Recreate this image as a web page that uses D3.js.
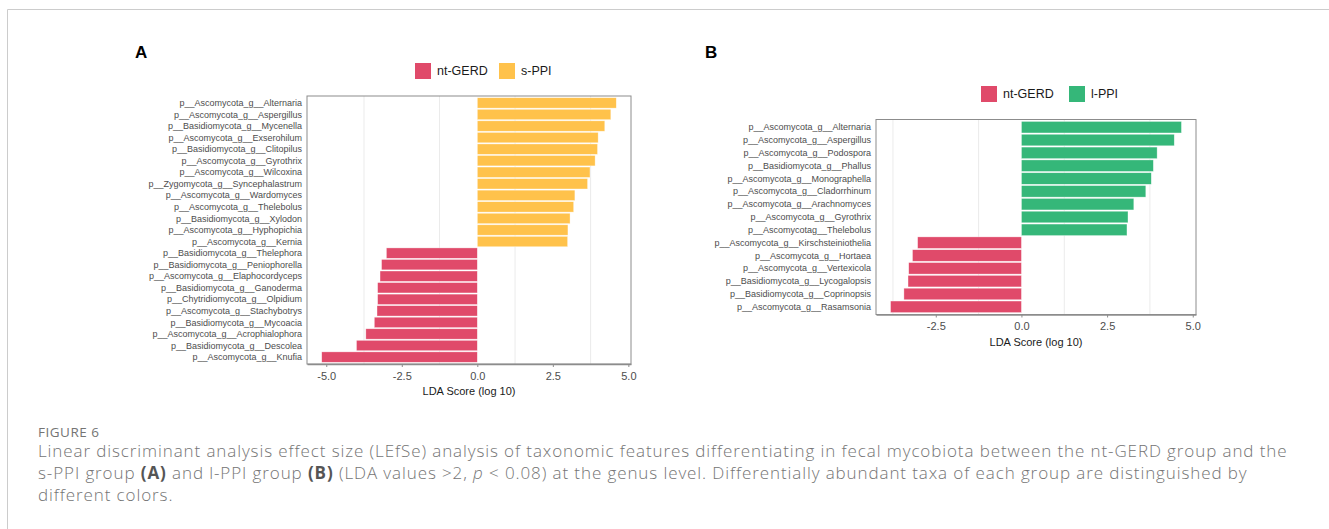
<!DOCTYPE html>
<html>
<head>
<meta charset="utf-8">
<script src="https://cdn.jsdelivr.net/npm/d3@7"></script>
<style>
  body { margin: 0; background: #fff; }
  .caption { font-family: "Open Sans", sans-serif; fill: #747474; }
</style>
</head>
<body>
<div id="chart"></div>
<script>
// panel A: nt-GERD vs s-PPI
var featuresA = [
  "p__Ascomycota_g__Alternaria", "p__Ascomycota_g__Aspergillus", "p__Basidiomycota_g__Mycenella",
  "p__Ascomycota_g__Exserohilum", "p__Basidiomycota_g__Clitopilus", "p__Ascomycota_g__Gyrothrix",
  "p__Ascomycota_g__Wilcoxina", "p__Zygomycota_g__Syncephalastrum", "p__Ascomycota_g__Wardomyces",
  "p__Ascomycota_g__Thelebolus", "p__Basidiomycota_g__Xylodon", "p__Ascomycota_g__Hyphopichia",
  "p__Ascomycota_g__Kernia", "p__Basidiomycota_g__Thelephora", "p__Basidiomycota_g__Peniophorella",
  "p__Ascomycota_g__Elaphocordyceps", "p__Basidiomycota_g__Ganoderma", "p__Chytridiomycota_g__Olpidium",
  "p__Ascomycota_g__Stachybotrys", "p__Basidiomycota_g__Mycoacia", "p__Ascomycota_g__Acrophialophora",
  "p__Basidiomycota_g__Descolea", "p__Ascomycota_g__Knufia"
];
var valuesA = [4.60, 4.42, 4.22, 4.00, 3.98, 3.90, 3.73, 3.65, 3.23, 3.19, 3.07, 3.00, 2.99,
  -3.01, -3.17, -3.22, -3.30, -3.30, -3.32, -3.41, -3.69, -4.00, -5.15];
var groupsA = ["nt-GERD", "s-PPI"];

// panel B: nt-GERD vs l-PPI
var featuresB = [
  "p__Ascomycota_g__Alternaria", "p__Ascomycota_g__Aspergillus", "p__Ascomycota_g__Podospora",
  "p__Basidiomycota_g__Phallus", "p__Ascomycota_g__Monographella", "p__Ascomycota_g__Cladorrhinum",
  "p__Ascomycota_g__Arachnomyces", "p__Ascomycota_g__Gyrothrix", "p__Ascomycotag__Thelebolus",
  "p__Ascomycota_g__Kirschsteiniothelia", "p__Ascomycota_g__Hortaea", "p__Ascomycota_g__Vertexicola",
  "p__Basidiomycota_g__Lycogalopsis", "p__Basidiomycota_g__Coprinopsis", "p__Ascomycota_g__Rasamsonia"
];
var valuesB = [4.67, 4.46, 3.96, 3.85, 3.79, 3.63, 3.28, 3.11, 3.08,
  -3.03, -3.18, -3.29, -3.31, -3.43, -3.82];
var groupsB = ["nt-GERD", "l-PPI"];

var tickValues = [-5, -2.5, 0, 2.5, 5];
var axisTitle = "LDA Score (log 10)";

var red = "#e04a6a", yellow = "#ffc24b", green = "#35b779";

var svg = d3.select("#chart").append("svg")
  .attr("width", 1329)
  .attr("height", 529);

// figure frame (open to the right and bottom)
svg.append("path")
  .attr("d", "M7.5,540V9.5H1340")
  .attr("fill", "none")
  .attr("stroke", "#cccccc")
  .attr("stroke-width", 1);

function drawPanel(p) {
  var lo = d3.min(p.values.concat([0])), hi = d3.max(p.values.concat([0]));
  var pad = (hi - lo) * 0.05;
  var x = d3.scaleLinear().domain([lo - pad, hi + pad]).range([p.left, p.right]);
  var y = d3.scaleBand().domain(p.features).range([p.top, p.bottom])
    .paddingInner(0.1).paddingOuter(0.15);

  var g = svg.append("g");

  // minor grid lines between the ticks
  var minor = d3.pairs(tickValues).map(function(d) { return (d[0] + d[1]) / 2; })
    .filter(function(v) { return v > x.domain()[0] && v < x.domain()[1]; });
  g.selectAll(".grid").data(minor).enter().append("line")
    .attr("x1", function(d) { return x(d); })
    .attr("x2", function(d) { return x(d); })
    .attr("y1", p.top).attr("y2", p.bottom)
    .attr("stroke", "#ebebeb").attr("stroke-width", 1);

  // bars
  g.selectAll(".bar").data(p.values).enter().append("rect")
    .attr("x", function(d) { return x(Math.min(0, d)); })
    .attr("y", function(d, i) { return y(p.features[i]); })
    .attr("width", function(d) { return Math.abs(x(d) - x(0)); })
    .attr("height", y.bandwidth())
    .attr("fill", function(d) { return d < 0 ? p.colors[0] : p.colors[1]; })
    .attr("stroke", "#ffffff").attr("stroke-opacity", 0.6).attr("stroke-width", 0.6);

  // panel border
  g.append("rect")
    .attr("x", p.left).attr("y", p.top)
    .attr("width", p.right - p.left).attr("height", p.bottom - p.top)
    .attr("fill", "none").attr("stroke", "#8c8c8c").attr("stroke-width", 1);

  // feature labels
  g.selectAll(".lab").data(p.features).enter().append("text")
    .attr("x", p.left - 5)
    .attr("y", function(d) { return y(d) + y.bandwidth() / 2; })
    .attr("dy", "0.35em")
    .attr("text-anchor", "end")
    .attr("font-family", "Liberation Sans, Arial, sans-serif")
    .attr("font-size", 9)
    .attr("fill", "#4d4d4d")
    .text(function(d) { return d; });

  // x axis
  var ticks = tickValues.filter(function(v) { return v >= x.domain()[0] && v <= x.domain()[1]; });
  var ax = g.append("g")
    .attr("transform", "translate(0," + p.bottom + ")")
    .call(d3.axisBottom(x).tickValues(ticks).tickSize(3).tickSizeOuter(0).tickPadding(5)
      .tickFormat(function(d) { return d.toFixed(1); }));
  ax.select(".domain").attr("stroke", "#8c8c8c").attr("stroke-width", 1.3);
  ax.selectAll(".tick line").attr("stroke", "#8c8c8c");
  ax.selectAll(".tick text")
    .attr("font-family", "Liberation Sans, Arial, sans-serif")
    .attr("font-size", 11)
    .attr("fill", "#4d4d4d");

  g.append("text")
    .attr("x", (p.left + p.right) / 2)
    .attr("y", p.bottom + 31)
    .attr("text-anchor", "middle")
    .attr("font-family", "Liberation Sans, Arial, sans-serif")
    .attr("font-size", 11)
    .attr("fill", "#1a1a1a")
    .text(axisTitle);

  // panel letter
  g.append("text")
    .attr("x", p.letterX).attr("y", 58)
    .attr("font-family", "Liberation Sans, Arial, sans-serif")
    .attr("font-size", 17).attr("font-weight", "bold")
    .attr("fill", "#000")
    .text(p.letter);

  // legend
  var lg = g.selectAll(".leg").data(p.groups).enter().append("g")
    .attr("transform", function(d, i) { return "translate(" + p.legendX[i] + "," + p.legendY + ")"; });
  lg.append("rect")
    .attr("width", 16).attr("height", 16)
    .attr("fill", function(d, i) { return p.colors[i]; });
  lg.append("text")
    .attr("x", 22).attr("y", 8).attr("dy", "0.35em")
    .attr("font-family", "Liberation Sans, Arial, sans-serif")
    .attr("font-size", 12.5)
    .attr("fill", "#1a1a1a")
    .text(function(d) { return d; });
}

drawPanel({
  features: featuresA, values: valuesA, groups: groupsA, colors: [red, yellow],
  left: 307, right: 631, top: 96, bottom: 364,
  letter: "A", letterX: 135, legendX: [415, 499], legendY: 63
});

drawPanel({
  features: featuresB, values: valuesB, groups: groupsB, colors: [red, green],
  left: 876, right: 1196, top: 119.5, bottom: 314.5,
  letter: "B", letterX: 705, legendX: [981, 1069], legendY: 86
});

// caption
svg.append("text").attr("class", "caption")
  .attr("x", 38).attr("y", 437)
  .attr("font-size", 13.5).attr("letter-spacing", 0.5).attr("fill", "#666")
  .text("FIGURE 6");

var cap = svg.append("text").attr("class", "caption")
  .attr("font-size", 17).attr("letter-spacing", 0.9).attr("font-weight", 300);
cap.append("tspan").attr("x", 38).attr("y", 457)
  .text("Linear discriminant analysis effect size (LEfSe) analysis of taxonomic features differentiating in fecal mycobiota between the nt-GERD group and the");
var l2 = cap.append("tspan").attr("x", 38).attr("y", 479);
l2.append("tspan").text("s-PPI group ");
l2.append("tspan").attr("font-weight", "bold").attr("fill", "#555").text("(A)");
l2.append("tspan").text(" and l-PPI group ");
l2.append("tspan").attr("font-weight", "bold").attr("fill", "#555").text("(B)");
l2.append("tspan").text(" (LDA values >2, ");
l2.append("tspan").attr("font-style", "italic").text("p");
l2.append("tspan").text(" < 0.08) at the genus level. Differentially abundant taxa of each group are distinguished by");
cap.append("tspan").attr("x", 38).attr("y", 501).text("different colors.");
</script>
</body>
</html>
